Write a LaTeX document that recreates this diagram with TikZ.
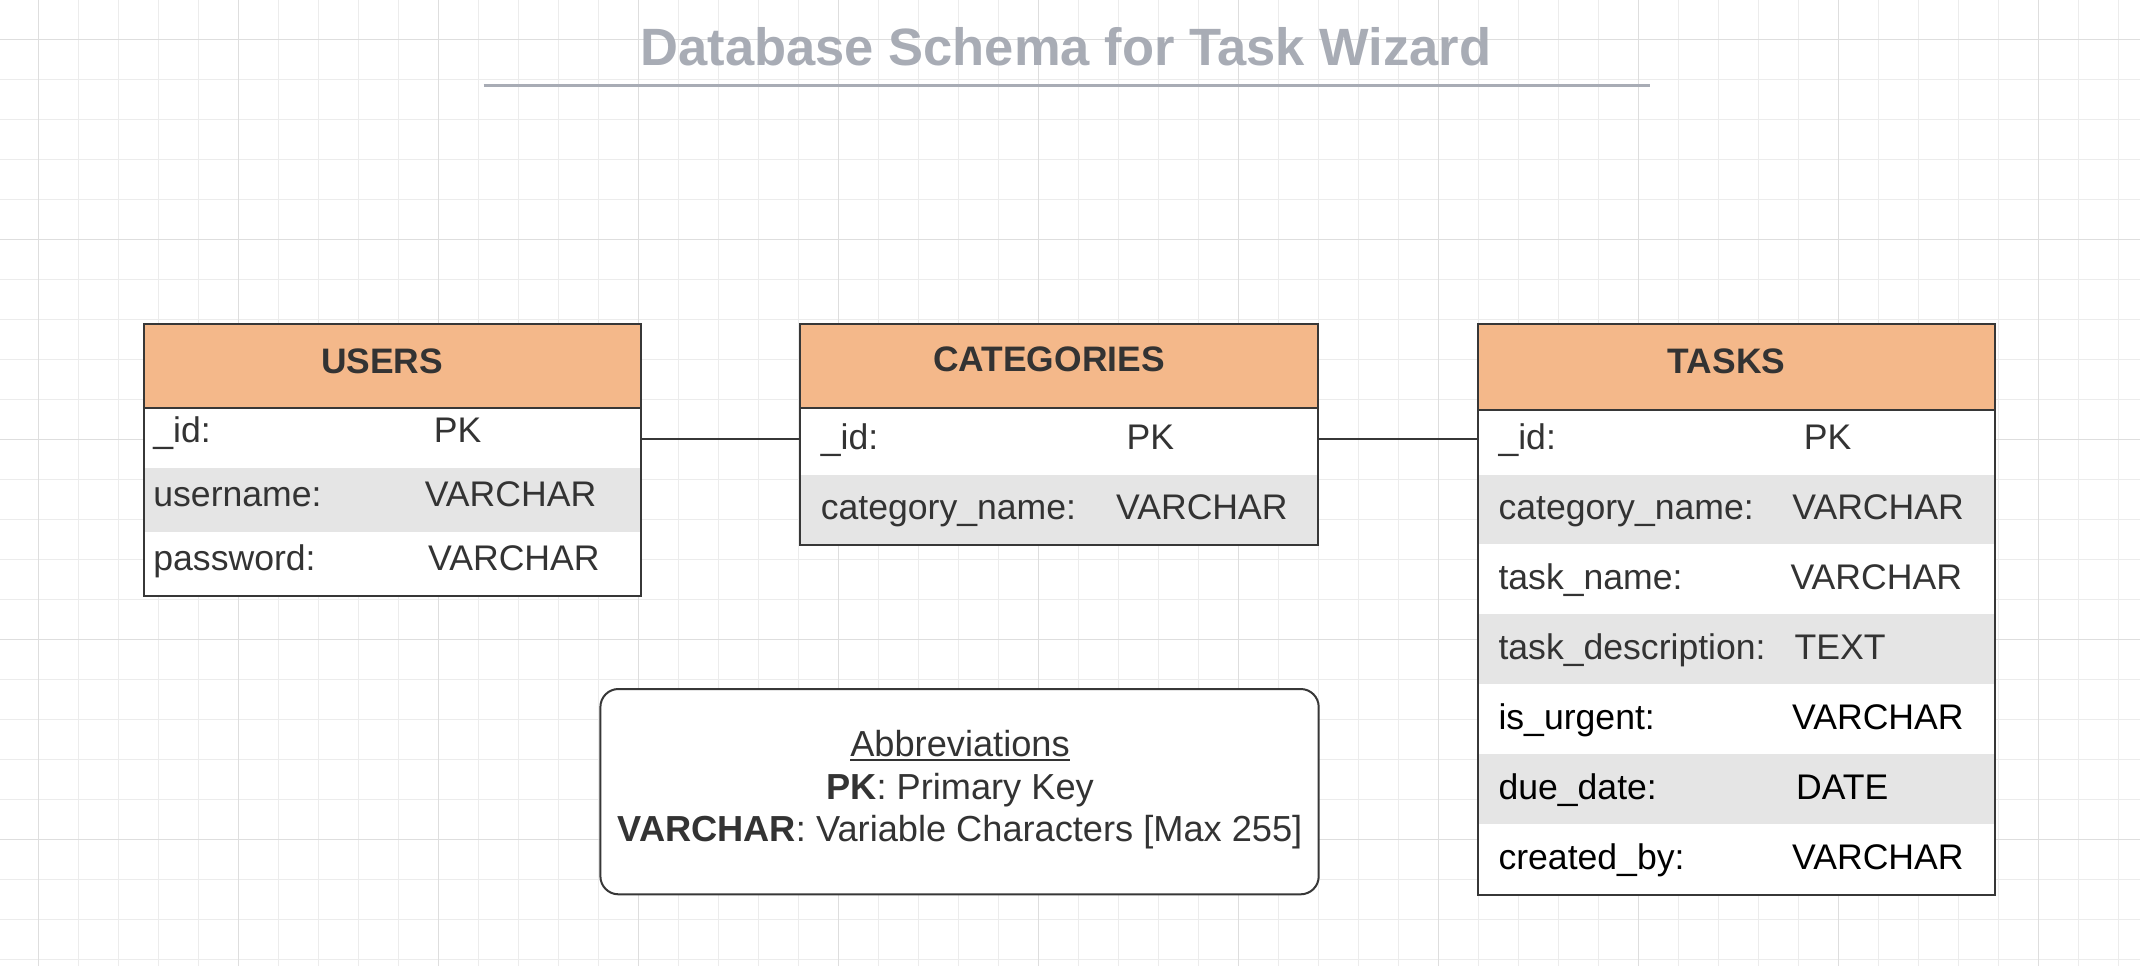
\documentclass[tikz,border=0pt]{standalone}
\usepackage{fontspec}
\setmainfont{Liberation Sans}
\definecolor{gridminor}{RGB}{236,236,236}
\definecolor{gridmajor}{RGB}{222,222,222}
\definecolor{hdrfill}{RGB}{244,184,138}
\definecolor{rowgray}{RGB}{229,229,229}
\definecolor{edge}{RGB}{55,55,55}
\definecolor{txt}{RGB}{51,51,51}
\definecolor{titlecol}{RGB}{168,172,181}
\begin{document}
\begin{tikzpicture}[x=1pt,y=-1pt,
  gmin/.style={draw=gridminor,line width=1.2pt},
  gmaj/.style={draw=gridmajor,line width=1.4pt},
  tbox/.style={rectangle,inner sep=0pt,outer sep=0pt,anchor=north west,fill=white},
  hbox/.style={rectangle,inner sep=0pt,outer sep=0pt,anchor=north west,fill=hdrfill,draw=edge,line width=2pt},
  grayrow/.style={rectangle,inner sep=0pt,outer sep=0pt,anchor=north west,fill=rowgray},
  border/.style={draw=edge,line width=2pt},
  fld/.style={anchor=base west,inner sep=0pt,text=txt,font=\fontsize{35.6}{42}\selectfont},
  fldk/.style={fld,text=black},
  htitle/.style={anchor=base,inner sep=0pt,text=txt,font=\fontsize{35.4}{42}\selectfont\bfseries},
  abtxt/.style={anchor=base,inner sep=0pt,text=txt,font=\fontsize{36.2}{42}\selectfont},
  conn/.style={draw=edge,line width=2pt},
]
\useasboundingbox (0,0) rectangle (2140,966);
\fill[white] (0,0) rectangle (2140,966);
% grid
\begin{scope}
\clip (0,0) rectangle (2140,966);
\foreach \i in {0,...,54} \draw[gmin] ({-1.6+40*\i},0) -- ({-1.6+40*\i},966);
\foreach \j in {0,...,25} \draw[gmin] (0,{-0.7+40*\j}) -- (2140,{-0.7+40*\j});
\foreach \i in {0,...,10} \draw[gmaj] ({38.4+200*\i},0) -- ({38.4+200*\i},966);
\foreach \j in {0,...,4} \draw[gmaj] (0,{39.3+200*\j}) -- (2140,{39.3+200*\j});
\end{scope}

% title
\node[anchor=base,inner sep=0pt,text=titlecol,font=\fontsize{52.5}{60}\selectfont\bfseries] (title) at (1066,65.7) {Database Schema for Task Wizard};
\coordinate (ulA) at (483.7,85.7);
\coordinate (ulB) at (1650,85.7);
\draw[titlecol,line width=3.3pt] (ulA) -- (ulB);

% USERS
\node[tbox,minimum width=496.7pt,minimum height=272pt] (users) at (144.3,324) {};
\node[grayrow,minimum width=496.7pt,minimum height=64pt] (usersg1) at (144.3,468.3) {};
\node[hbox,minimum width=496.7pt,minimum height=84.3pt] (usershead) at (144.3,324) {};
\draw[border] (users.north west) rectangle (users.south east);
\node[htitle] (usersT) at (382,373.3) {USERS};
\node[fld] (u1a) at (153.2,442.7) {\_id:};
\node[fld] (u1b) at (433.6,442.7) {PK};
\node[fld] (u2a) at (153.2,506.7) {username:};
\node[fld] (u2b) at (424.6,506.7) {VARCHAR};
\node[fld] (u3a) at (153.2,570) {password:};
\node[fld] (u3b) at (428,570) {VARCHAR};

% CATEGORIES
\node[tbox,minimum width=517.9pt,minimum height=221pt] (cat) at (800.4,323.5) {};
\node[grayrow,minimum width=517.9pt,minimum height=69.9pt] (catg1) at (800.4,474.6) {};
\node[hbox,minimum width=517.9pt,minimum height=84.8pt] (cathead) at (800.4,323.5) {};
\draw[border] (cat.north west) rectangle (cat.south east);
\node[htitle] (catT) at (1048.9,371.7) {CATEGORIES};
\node[fld] (c1a) at (820.6,449.3) {\_id:};
\node[fld] (c1b) at (1126.4,449.3) {PK};
\node[fld] (c2a) at (820.6,519) {category\_name:};
\node[fld] (c2b) at (1116,519) {VARCHAR};

% TASKS
\node[tbox,minimum width=517.5pt,minimum height=570.8pt] (tasks) at (1477.7,324) {};
\node[grayrow,minimum width=517.5pt,minimum height=69.6pt] (tg1) at (1477.7,474.6) {};
\node[grayrow,minimum width=517.5pt,minimum height=69.7pt] (tg2) at (1477.7,614.2) {};
\node[grayrow,minimum width=517.5pt,minimum height=70.1pt] (tg3) at (1477.7,753.9) {};
\node[hbox,minimum width=517.5pt,minimum height=86.3pt] (taskshead) at (1477.7,324) {};
\draw[border] (tasks.north west) rectangle (tasks.south east);
\node[htitle] (tasksT) at (1726.5,373.1) {TASKS};
\node[fld] (t1a) at (1498.3,449.7) {\_id:};
\node[fld] (t1b) at (1803.7,449.7) {PK};
\node[fld] (t2a) at (1498.3,519.3) {category\_name:};
\node[fld] (t2b) at (1792.2,519.3) {VARCHAR};
\node[fld] (t3a) at (1498.3,589.4) {task\_name:};
\node[fld] (t3b) at (1790.4,589.4) {VARCHAR};
\node[fld] (t4a) at (1498.3,659.4) {task\_description:};
\node[fld] (t4b) at (1794.5,659.4) {TEXT};
\node[fldk] (t5a) at (1498.3,729.8) {is\_urgent:};
\node[fldk] (t5b) at (1792,729.8) {VARCHAR};
\node[fldk] (t6a) at (1498.3,799.9) {due\_date:};
\node[fldk] (t6b) at (1795.9,799.9) {DATE};
\node[fldk] (t7a) at (1498.3,869.5) {created\_by:};
\node[fldk] (t7b) at (1792,869.5) {VARCHAR};

% connectors
\coordinate (lk) at (0,439.4);
\draw[conn] (users.east |- lk) -- (cat.west |- lk);
\draw[conn] (cat.east |- lk) -- (tasks.west |- lk);

% abbreviations
\node[draw=edge,line width=2pt,rounded corners=18pt,minimum width=718.3pt,minimum height=205.3pt,anchor=north west,fill=white,inner sep=0pt,outer sep=0pt] (abbr) at (600.4,689) {};
\node[abtxt] (ab1) at (960,756.7) {Abbreviations};
\draw[txt,line width=1.8pt] ([yshift=-3pt]ab1.base west) -- ([yshift=-3pt]ab1.base east);
\node[abtxt] (ab2) at (960,799.3) {\textbf{PK}: Primary Key};
\node[abtxt] (ab3) at (960,841.7) {\textbf{VARCHAR}: Variable Characters [Max 255]};
\end{tikzpicture}
\end{document}
